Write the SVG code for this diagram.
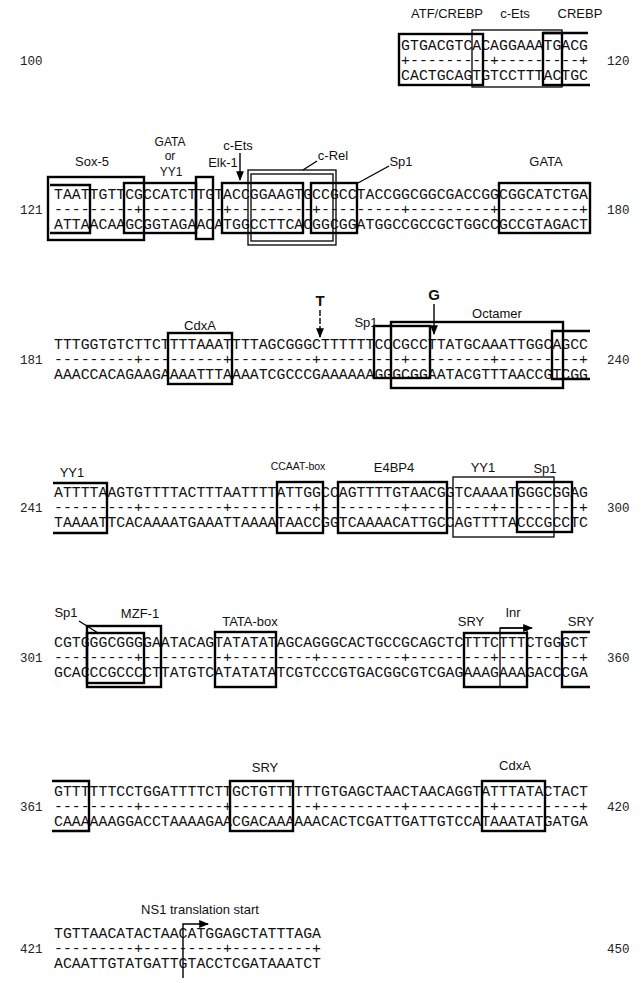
<svg xmlns="http://www.w3.org/2000/svg" width="644" height="983" viewBox="0 0 644 983">
<style>
.seq{font-family:"Liberation Mono",monospace;font-size:14.8px;fill:#111}
.num{font-family:"Liberation Mono",monospace;font-size:12.5px;fill:#222}
.lab{font-family:"Liberation Sans",Arial,sans-serif;font-size:13px;fill:#111;text-anchor:middle}
.stack{font-size:12px}
.small{font-size:10.5px}
.big{font-family:"Liberation Sans",Arial,sans-serif;font-size:15px;font-weight:bold;fill:#111;text-anchor:middle}
.box{fill:none;stroke:#000;stroke-width:2.4}
.thin{fill:none;stroke:#000;stroke-width:1.3}
.ln{fill:none;stroke:#000;stroke-width:1.4}
</style>
<defs>
<marker id="ah" viewBox="0 0 10 10" refX="9" refY="5" markerWidth="7" markerHeight="7" orient="auto"><path d="M0,1 L10,5 L0,9 z" fill="#000"/></marker>
</defs>
<rect width="644" height="983" fill="#fff"/>

<g id="row100">
<text class="num" x="20" y="65">100</text><text class="num" x="607" y="65">120</text>
<text class="seq" x="401.1" y="50" textLength="186.9" lengthAdjust="spacing">GTGACGTCACAGGAAATGACG</text>
<text class="seq" x="401.1" y="65" textLength="186.9" lengthAdjust="spacing">+---------+---------+</text>
<text class="seq" x="401.1" y="80" textLength="186.9" lengthAdjust="spacing">CACTGCAGTGTCCTTTACTGC</text>
</g>
<g id="site-atf"><rect class="box" x="399" y="34" width="84" height="51"/><text class="lab" x="447" y="18">ATF/CREBP</text></g>
<g id="site-cets1"><rect class="thin" x="472" y="30" width="90" height="57"/><text class="lab" x="515" y="18">c-Ets</text></g>
<g id="site-crebp"><rect class="box" x="543" y="33" width="19" height="52"/><path class="box" d="M543,33 H588 M562,85 H590"/><text class="lab" x="580" y="18">CREBP</text></g>

<g id="row121">
<text class="num" x="20" y="214">121</text><text class="num" x="607" y="214">180</text>
<text class="seq" x="54" y="199" textLength="534" lengthAdjust="spacing">TAATTGTTCGCCATCTTGTACCGGAAGTGCCGCCTACCGGCGGCGACCGGCGGCATCTGA</text>
<text class="seq" x="54" y="214" textLength="534" lengthAdjust="spacing">---------+---------+---------+---------+---------+---------+</text>
<text class="seq" x="54" y="229" textLength="534" lengthAdjust="spacing">ATTAACAAGCGGTAGAACATGGCCTTCACGGCGGATGGCCGCCGCTGGCCGCCGTAGACT</text>
</g>
<g id="site-sox5"><rect class="box" x="48" y="177" width="96" height="63"/><text class="lab" x="92" y="166">Sox-5</text></g>
<g id="site-crebp-b"><path class="box" d="M50,185 H90 V233 H50"/></g>
<g id="site-gata1"><rect class="box" x="124" y="183" width="72" height="50"/><text class="lab stack" x="170" y="146">GATA</text><text class="lab stack" x="170" y="160">or</text><text class="lab stack" x="171" y="176">YY1</text></g>
<g id="site-elk1"><rect class="box" x="196" y="177" width="17" height="62"/><text class="lab" x="223" y="167">Elk-1</text></g>
<g id="site-cets2"><rect class="box" x="222" y="183" width="81" height="50"/><text class="lab" x="238" y="150">c-Ets</text></g>
<g id="site-crel"><rect class="thin" x="248" y="170" width="88" height="75"/><rect class="thin" x="251" y="174" width="82" height="67"/><text class="lab" x="333" y="160">c-Rel</text></g>
<g id="site-sp1a"><rect class="box" x="311" y="183" width="46" height="50"/><text class="lab" x="401" y="166">Sp1</text></g>
<g id="site-gata2"><rect class="box" x="499" y="183" width="91" height="50"/><text class="lab" x="546" y="166">GATA</text></g>

<g id="row181">
<text class="num" x="20" y="364">181</text><text class="num" x="607" y="364">240</text>
<text class="seq" x="54" y="349" textLength="534" lengthAdjust="spacing">TTTGGTGTCTTCTTTTAAATTTTAGCGGGCTTTTTTCCCGCCTTATGCAAATTGGCAGCC</text>
<text class="seq" x="54" y="364" textLength="534" lengthAdjust="spacing">---------+---------+---------+---------+---------+---------+</text>
<text class="seq" x="54" y="379" textLength="534" lengthAdjust="spacing">AAACCACAGAAGAAAATTTAAAATCGCCCGAAAAAAGGGCGGAATACGTTTAACCGTCGG</text>
</g>
<g id="site-cdxa1"><rect class="box" x="168" y="333" width="64" height="51"/><text class="lab" x="200" y="330">CdxA</text></g>
<g id="site-sp1b"><rect class="box" x="374" y="326" width="56" height="52"/><text class="lab" x="366" y="327">Sp1</text></g>
<g id="site-oct"><rect class="box" x="391" y="322" width="172" height="66"/><text class="lab" x="497" y="318">Octamer</text></g>
<g id="site-yy1a"><path class="box" d="M590,331 H552 V379 H590"/></g>
<g id="mut-T"><text class="big" x="320" y="306">T</text></g>
<g id="mut-G"><text class="big" x="434" y="300">G</text></g>

<g id="row241">
<text class="num" x="20" y="512">241</text><text class="num" x="607" y="512">300</text>
<text class="seq" x="54" y="497" textLength="534" lengthAdjust="spacing">ATTTTAAGTGTTTTACTTTAATTTTATTGGCCAGTTTTGTAACGGTCAAAATGGGCGGAG</text>
<text class="seq" x="54" y="512" textLength="534" lengthAdjust="spacing">---------+---------+---------+---------+---------+---------+</text>
<text class="seq" x="54" y="527" textLength="534" lengthAdjust="spacing">TAAAATTCACAAAATGAAATTAAAATAACCGGTCAAAACATTGCCAGTTTTACCCGCCTC</text>
</g>
<g id="site-yy1b"><path class="box" d="M53,483 H107 V533 H53"/><text class="lab" x="72" y="477">YY1</text></g>
<g id="site-ccaat"><rect class="box" x="277" y="482" width="46" height="51"/><text class="lab small" x="298" y="470">CCAAT-box</text></g>
<g id="site-e4bp4"><rect class="box" x="338" y="482" width="109" height="51"/><text class="lab" x="394" y="472">E4BP4</text></g>
<g id="site-yy1c"><rect class="thin" x="453" y="477" width="101" height="60"/><text class="lab" x="483" y="472">YY1</text></g>
<g id="site-sp1c"><rect class="box" x="517" y="482" width="55" height="50"/><text class="lab" x="545" y="473">Sp1</text></g>

<g id="row301">
<text class="num" x="20" y="662">301</text><text class="num" x="607" y="662">360</text>
<text class="seq" x="54" y="647" textLength="534" lengthAdjust="spacing">CGTGGGCGGGGAATACAGTATATATAGCAGGGCACTGCCGCAGCTCTTTCTTTCTGGGCT</text>
<text class="seq" x="54" y="662" textLength="534" lengthAdjust="spacing">---------+---------+---------+---------+---------+---------+</text>
<text class="seq" x="54" y="677" textLength="534" lengthAdjust="spacing">GCACCCGCCCCTTATGTCATATATATCGTCCCGTGACGGCGTCGAGAAAGAAAGACCCGA</text>
</g>
<g id="site-sp1d"><rect class="box" x="87" y="633" width="57" height="50"/><text class="lab" x="66" y="617">Sp1</text></g>
<g id="site-mzf1"><rect class="box" x="87" y="626" width="74" height="61"/><text class="lab" x="140" y="618">MZF-1</text></g>
<g id="site-tata"><rect class="box" x="215" y="632" width="61" height="55"/><text class="lab" x="250" y="626">TATA-box</text></g>
<g id="site-sry1"><rect class="box" x="464" y="633" width="63" height="54"/><text class="lab" x="471" y="626">SRY</text></g>
<g id="site-inr"><rect class="thin" x="500" y="628" width="27" height="59"/><text class="lab" x="513" y="617">Inr</text></g>
<g id="site-sry2"><path class="box" d="M590,632 H562 V687 H590"/><text class="lab" x="581" y="626">SRY</text></g>

<g id="row361">
<text class="num" x="20" y="811">361</text><text class="num" x="607" y="811">420</text>
<text class="seq" x="54" y="796" textLength="534" lengthAdjust="spacing">GTTTTTTCCTGGATTTTCTTGCTGTTTTTTGTGAGCTAACTAACAGGTATTTATACTACT</text>
<text class="seq" x="54" y="811" textLength="534" lengthAdjust="spacing">---------+---------+---------+---------+---------+---------+</text>
<text class="seq" x="54" y="826" textLength="534" lengthAdjust="spacing">CAAAAAAGGACCTAAAAGAACGACAAAAAACACTCGATTGATTGTCCATAAATATGATGA</text>
</g>
<g id="site-sry3"><path class="box" d="M52,781 H89 V831 H52"/></g>
<g id="site-sry4"><rect class="box" x="230" y="781" width="63" height="50"/><text class="lab" x="265" y="772">SRY</text></g>
<g id="site-cdxa2"><rect class="box" x="482" y="781" width="63" height="50"/><text class="lab" x="515" y="770">CdxA</text></g>

<g id="row421">
<text class="num" x="20" y="953">421</text><text class="num" x="607" y="953">450</text>
<text class="seq" x="54" y="938" textLength="267" lengthAdjust="spacing">TGTTAACATACTAACATGGAGCTATTTAGA</text>
<text class="seq" x="54" y="953" textLength="267" lengthAdjust="spacing">---------+---------+---------+</text>
<text class="seq" x="54" y="968" textLength="267" lengthAdjust="spacing">ACAATTGTATGATTGTACCTCGATAAATCT</text>
</g>
<g id="site-ns1"><text class="lab" x="200" y="914">NS1 translation start</text></g>

<g id="connectors">
<path class="ln" d="M240,153 V180" marker-end="url(#ah)"/>
<path class="ln" d="M303,170 L317,161"/>
<path class="ln" d="M358,183 L389,166"/>
<path class="ln" d="M320,310 V337" stroke-dasharray="6,2" stroke-width="2" marker-end="url(#ah)"/>
<path class="ln" d="M434,304 V334" stroke-width="2" marker-end="url(#ah)"/>
<path class="ln" d="M79,621 L98,633"/>
<path class="ln" d="M500,628 H532" marker-end="url(#ah)"/>
<path class="ln" d="M183,978 V924 H208" marker-end="url(#ah)"/>
</g>
</svg>
